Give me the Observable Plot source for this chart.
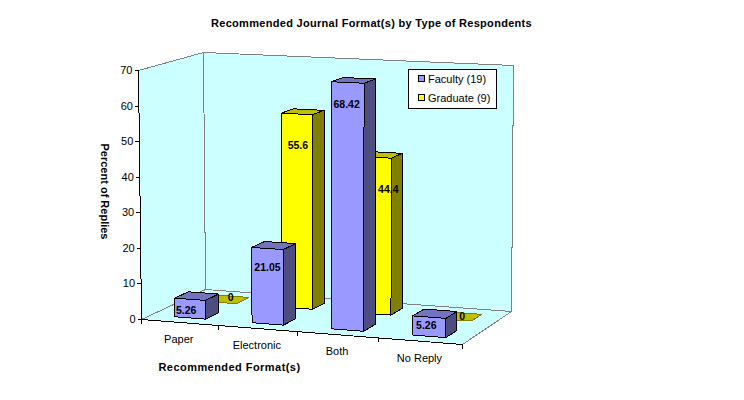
<!DOCTYPE html>
<html>
<head>
<meta charset="utf-8">
<script src="https://cdn.jsdelivr.net/npm/d3@7"></script>
<script src="https://cdn.jsdelivr.net/npm/@observablehq/plot@0.6"></script>
<style>
  html, body { margin: 0; padding: 0; background: #fff; }
  #chart { position: relative; width: 744px; height: 400px; font-family: "Liberation Sans", Arial, sans-serif; }
  #chart svg { display: block; }
  .title-wide text { letter-spacing: 0.3px; }
  .xtitle-wide text { letter-spacing: 0.45px; }
</style>
</head>
<body>
<div id="chart"></div>
<script>
// ---- data ----
const categories = ["Paper", "Electronic", "Both", "No Reply"];
const faculty = [5.26, 21.05, 68.42, 5.26];
const graduate = [0, 55.6, 44.4, 0];
const valueTicks = [0, 10, 20, 30, 40, 50, 60, 70];
const seriesNames = ["Faculty (19)", "Graduate (9)"];
const chartTitle = "Recommended Journal Format(s) by Type of Respondents";
const xTitle = "Recommended Format(s)";
const yTitle = "Percent of Replies";

// ---- the 3D box as seen in the picture ----
const floorQuad = [[141, 319], [462, 344], [511, 311], [205, 289]];
const roofQuad = [[138, 70], [465, 85], [513, 65], [203, 52]];
const maxValue = 70;

function homography([[x0, y0], [x1, y1], [x2, y2], [x3, y3]]) {
  const dx1 = x1 - x2, dx2 = x3 - x2, sx = x0 - x1 + x2 - x3;
  const dy1 = y1 - y2, dy2 = y3 - y2, sy = y0 - y1 + y2 - y3;
  const den = dx1 * dy2 - dx2 * dy1;
  const g = (sx * dy2 - dx2 * sy) / den, h = (dx1 * sy - sx * dy1) / den;
  const a = x1 - x0 + g * x1, b = x3 - x0 + h * x3;
  const d = y1 - y0 + g * y1, e = y3 - y0 + h * y3;
  return (u, v) => {
    const w = g * u + h * v + 1;
    return [(a * u + b * v + x0) / w, (d * u + e * v + y0) / w];
  };
}
const floorAt = homography(floorQuad), roofAt = homography(roofQuad);
function project(u, v, value) {
  const [fx, fy] = floorAt(u, v), [rx, ry] = roofAt(u, v), t = value / maxValue;
  return [fx + (rx - fx) * t, fy + (ry - fy) * t];
}

// ---- build faces ----
const faces = [];
function face(id, fill, stroke, pts) {
  [...pts, pts[0]].forEach(([x, y]) => faces.push({ id, fill, stroke, x, y }));
}
const WALL = "#CCFFFF", GRID = "#808080";
face("leftWall", WALL, GRID, [[0,0,0],[0,1,0],[0,1,maxValue],[0,0,maxValue]].map(p => project(...p)));
face("backWall", WALL, GRID, [[0,1,0],[1,1,0],[1,1,maxValue],[0,1,maxValue]].map(p => project(...p)));
face("floor", WALL, GRID, [[0,0,0],[1,0,0],[1,1,0],[0,1,0]].map(p => project(...p)));

const barHalfWidth = 0.05, barHalfDepth = 0.105, barNudge = 0.003;
const rows = [
  { values: graduate, depth: 0.75, front: "#FFFF00", side: "#808000", top: "#BFBF00" },
  { values: faculty, depth: 0.25, front: "#9999FF", side: "#4D4D80", top: "#7373BF" }
];
rows.forEach((row, r) => row.values.forEach((value, i) => {
  const centre = (i + 0.5) / categories.length + barNudge;
  const u0 = centre - barHalfWidth, u1 = centre + barHalfWidth;
  const v0 = row.depth - barHalfDepth, v1 = row.depth + barHalfDepth;
  const id = `${r}-${i}`;
  if (value > 0) {
    face(id + "side", row.side, "#000", [[u1,v0,0],[u1,v1,0],[u1,v1,value],[u1,v0,value]].map(p => project(...p)));
    face(id + "front", row.front, "#000", [[u0,v0,0],[u1,v0,0],[u1,v0,value],[u0,v0,value]].map(p => project(...p)));
  }
  face(id + "top", row.top, value > 0 ? "#000" : "#808000", [[u0,v0,value],[u1,v0,value],[u1,v1,value],[u0,v1,value]].map(p => project(...p)));
}));

// ---- axes ----
const frontEdge = [[0,0,0],[1,0,0]].map(p => project(...p)).map(([x, y]) => ({ x, y }));
const valueAxis = [[0,0,0],[0,0,maxValue]].map(p => project(...p)).map(([x, y]) => ({ x, y }));
const yTickRows = valueTicks.map(value => { const [x, y] = project(0, 0, value); return { value, x, y }; });
const xTickRows = d3.range(categories.length + 1).map(i => { const [x, y] = project(i / categories.length, 0, 0); return { x, y }; });
const catRows = categories.map((name, i) => { const [x, y] = project((i + 0.5) / categories.length, 0, 0); return { name, x, y }; });

// ---- data labels: each hangs a little below its bar's top ----
const facultyLabelDrop = [3.3, 5.3, 6.2, 2.3];
const graduateLabelDrop = [-1.5, 9.1, 9.2, -1];
const facultyLabelShift = [-3, 1, 0, -2];
const graduateLabelShift = [10, 2, 14, 8];
const labelRows = [];
[[graduate, 0.75 - barHalfDepth, graduateLabelDrop, graduateLabelShift], [faculty, 0.25 - barHalfDepth, facultyLabelDrop, facultyLabelShift]].forEach(([vals, v, drops, shifts]) =>
  vals.forEach((value, i) => {
    const [x, y] = project((i + 0.5) / categories.length, v, value - drops[i]);
    labelRows.push({ text: String(value), x: x + shifts[i], y });
  }));

const plot = Plot.plot({
  width: 744, height: 400,
  marginTop: 0, marginRight: 0, marginBottom: 0, marginLeft: 0,
  x: { type: "linear", domain: [0, 744], range: [0, 744], axis: null },
  y: { type: "linear", domain: [0, 400], range: [0, 400], axis: null },
  color: { type: "identity" },
  style: { fontFamily: '"Liberation Sans", Arial, sans-serif', background: "#fff" },
  marks: [
    Plot.line(faces, { x: "x", y: "y", z: "id", fill: "fill", stroke: "stroke", strokeWidth: 1, curve: "linear", strokeLinejoin: "miter", shapeRendering: "crispEdges" }),
    Plot.line(frontEdge, { x: "x", y: "y", stroke: "#000", strokeWidth: 1, shapeRendering: "crispEdges" }),
    Plot.line(valueAxis, { x: "x", y: "y", stroke: "#000", strokeWidth: 1, shapeRendering: "crispEdges" }),
    Plot.link(xTickRows, { x1: "x", y1: "y", x2: "x", y2: d => d.y + 4, stroke: "#000", shapeRendering: "crispEdges" }),
    Plot.link(yTickRows, { x1: "x", y1: "y", x2: d => d.x - 4, y2: "y", stroke: "#000", shapeRendering: "crispEdges" }),
    Plot.text(yTickRows, { x: "x", y: "y", text: d => String(d.value), dx: -6, textAnchor: "end", fontSize: 11, fill: "#000" }),
    Plot.text(catRows, { x: "x", y: "y", text: "name", dy: 17, dx: -1, fontSize: 11, fill: "#000" }),
    Plot.text(labelRows, { x: "x", y: "y", text: "text", fontSize: 10.5, fontWeight: "bold", fill: "#000" }),
    Plot.text([chartTitle], { className: "title-wide", frameAnchor: "top", dy: 19, dx: -1, text: d => d, fontSize: 11, fontWeight: "bold", fill: "#000" }),
    Plot.text([xTitle], { className: "xtitle-wide", frameAnchor: "bottom-left", dx: 229, dy: -30, textAnchor: "middle", text: d => d, fontSize: 11, fontWeight: "bold", fill: "#000" }),
    Plot.text([yTitle], { frameAnchor: "top-left", dx: 108, dy: 191, textAnchor: "middle", rotate: 90, text: d => d, fontSize: 11, fontWeight: "bold", fill: "#000" })
  ]
});
document.getElementById("chart").appendChild(plot);

// ---- legend, added over the plot's corner ----
const legend = document.createElement("div");
legend.style.cssText = "position:absolute;left:408px;top:69px;width:87px;height:38px;background:#fff;border:1px solid #000;font-size:11px;color:#000;";
seriesNames.forEach((name, i) => {
  const row = document.createElement("div");
  row.style.cssText = `position:absolute;left:9px;top:${4 + i * 19}px;height:11px;line-height:11px;white-space:nowrap;`;
  const swatch = document.createElement("span");
  swatch.style.cssText = `position:absolute;left:0;top:1px;width:5px;height:5px;border:1px solid #000;background:${rows[1 - i].front};`;
  const label = document.createElement("span");
  label.textContent = name;
  label.style.cssText = "position:absolute;left:10px;top:0;";
  row.append(swatch, label);
  legend.append(row);
});
document.getElementById("chart").appendChild(legend);
</script>
</body>
</html>
